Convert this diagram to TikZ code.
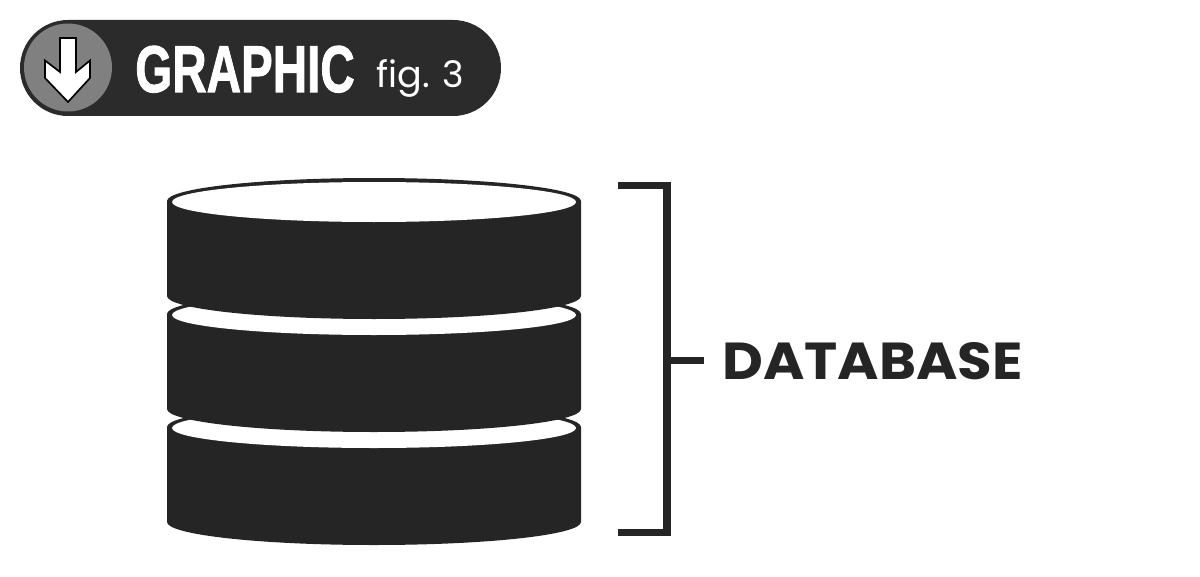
\documentclass[tikz,border=0pt]{standalone}
\usepackage{graphicx}
\usepackage{fontspec}
\setmainfont{Poppins}
\newfontfamily\badgefont[BoldFeatures={FakeBold=1.6}]{Liberation Sans}
\definecolor{inkdark}{HTML}{252525}
\definecolor{badgedark}{HTML}{2B2B2B}
\definecolor{badgegray}{HTML}{808080}
\tikzset{
  bracketline/.style={line width=5pt,draw=inkdark},
  labeltext/.style={inner sep=0pt,text=inkdark,anchor=base west}
}

\begin{document}
\begin{tikzpicture}[x=.025cm,y=-.025cm]
  \useasboundingbox (0,0) rectangle (1200,577);
  % badge
  \fill[badgedark] (68,20) -- (453,20) arc[start angle=-90,end angle=90,radius=48] -- (68,116)
    arc[start angle=90,end angle=270,radius=48] -- cycle;
  \fill[badgegray] (68,67.5) circle (44);
  \draw[fill=white,draw=black,line width=1.2pt,line join=miter] (60,38) -- (76,38) -- (76,72) -- (90,60.5)
    -- (90,78) -- (68,102) -- (45,78) -- (45,60.5) -- (60,72) -- cycle;
  \node[labeltext,text=white] (graphic) at (135,92) {\badgefont\bfseries\scalebox{.72}[1]{\fontsize{47}{47}\selectfont GRAPHIC}};
  \node[labeltext,text=white] (figlabel) at (376,88) {\fontsize{26}{26}\selectfont fig. 3};
  % layers, lowest one first
  \foreach \ytop in {427,314,201}{
    \fill[inkdark] (167,\ytop) arc[start angle=180,end angle=360,x radius=207,y radius=23]
      -- (581,\ytop+95) arc[start angle=0,end angle=180,x radius=207,y radius=23] -- cycle;
    \fill[white] (374,\ytop+1) ellipse[x radius=202,y radius=20];
  }
  % bracket
  \coordinate (bracketTop) at (618,185.5);
  \coordinate (cornerTop) at (667,185.5);
  \coordinate (cornerBot) at (667,532.5);
  \coordinate (bracketBot) at (618,532.5);
  \coordinate (tickStart) at (667,360.5);
  \coordinate (tickEnd) at (704,360.5);
  \draw[bracketline,line join=miter] (bracketTop) -- (cornerTop) -- (cornerBot) -- (bracketBot);
  \draw[bracketline] (tickStart) -- (tickEnd);
  \node[labeltext] (database) at (722,379) {\bfseries\scalebox{1.08}[1]{\fontsize{37}{37}\selectfont DATABASE}};
\end{tikzpicture}
\end{document}
